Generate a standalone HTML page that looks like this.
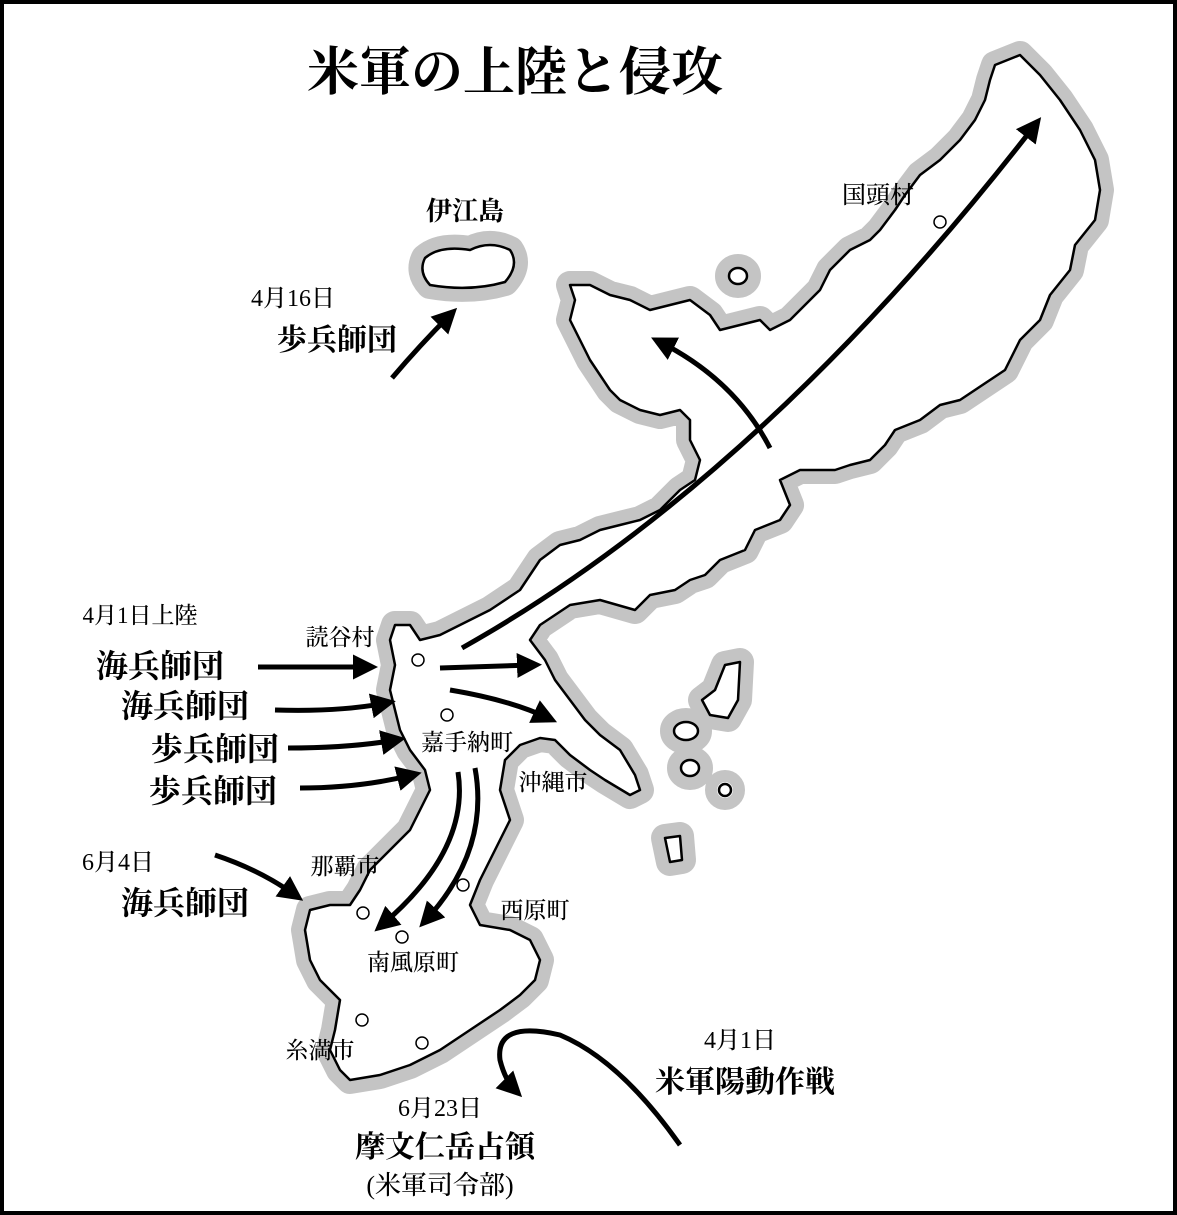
<!DOCTYPE html>
<html><head><meta charset="utf-8"><style>
html,body{margin:0;padding:0;background:#fff}
svg{display:block}
text{font-family:"Liberation Serif","Noto Serif CJK JP","Noto Serif CJK SC",serif;fill:#000;text-anchor:middle;font-weight:500}
.b{font-weight:bold}
</style></head><body>
<svg width="1177" height="1215" viewBox="0 0 1177 1215" xmlns="http://www.w3.org/2000/svg">
<defs>
<marker id="ah" viewBox="0 0 10 10" refX="6" refY="5" markerWidth="5" markerHeight="5" orient="auto" markerUnits="strokeWidth">
<path d="M0,0 L10,5 L0,10 z" fill="#000"/></marker>
<g id="land">
<path d="M995,65 L1020,55 L1040,75 L1060,100 L1080,130 L1095,160 L1100,190 L1095,220 L1075,245 L1070,270 L1050,295 L1040,320 L1020,340 L1005,370 L990,380 L960,400 L940,405 L920,420 L895,430 L885,445 L870,460 L850,465 L835,470 L800,470 L780,480 L790,505 L780,520 L755,530 L745,550 L720,560 L705,575 L690,580 L675,590 L650,595 L635,610 L600,600 L570,605 L540,625 L530,640 L545,660 L555,680 L570,700 L585,720 L600,735 L620,750 L635,775 L640,790 L630,795 L605,780 L590,770 L570,755 L555,740 L540,738 L520,745 L505,760 L500,790 L510,820 L495,850 L480,880 L470,905 L480,925 L510,930 L530,940 L540,960 L535,980 L520,995 L500,1010 L470,1030 L440,1050 L410,1065 L380,1075 L350,1080 L340,1070 L330,1050 L335,1030 L340,1000 L320,980 L310,960 L305,930 L310,910 L330,905 L350,905 L360,890 L370,870 L390,850 L410,830 L420,810 L430,790 L425,770 L410,750 L400,730 L395,710 L390,690 L395,665 L390,640 L395,625 L410,625 L420,640 L440,635 L460,625 L490,610 L520,590 L540,560 L560,545 L580,540 L600,530 L620,525 L640,520 L660,510 L680,490 L695,480 L700,460 L690,440 L690,420 L680,410 L660,415 L640,410 L620,400 L610,390 L600,375 L590,360 L580,340 L570,320 L575,300 L570,285 L590,285 L610,295 L630,300 L650,310 L670,305 L690,300 L710,315 L720,330 L740,325 L760,320 L770,330 L790,320 L810,300 L820,290 L830,270 L850,250 L870,240 L880,230 L895,210 L905,195 L920,175 L940,160 L960,140 L975,120 L985,100 L990,80 Z"/>
<path d="M425,258 Q440,245 470,250 Q490,240 510,250 Q520,265 505,282 Q470,292 430,285 Q418,272 425,258 Z"/>
<ellipse cx="738" cy="276" rx="9" ry="8"/>
<path d="M725,665 L740,662 L738,700 L728,718 L710,715 L702,700 L715,690 Z"/>
<ellipse cx="686" cy="731" rx="12" ry="9"/>
<ellipse cx="690" cy="768" rx="9" ry="8"/>
<ellipse cx="725" cy="790" rx="6" ry="6"/>
<path d="M665,838 L680,836 L682,860 L670,862 Z"/>
</g>
</defs>
<rect x="2" y="2" width="1173" height="1211" fill="#fff" stroke="#000" stroke-width="4"/>
<use href="#land" fill="#c4c4c4" stroke="#c4c4c4" stroke-width="28" stroke-linejoin="round"/>
<use href="#land" fill="#fff" stroke="#000" stroke-width="2.5" stroke-linejoin="round"/>

<g fill="none" stroke="#000" stroke-width="5" marker-end="url(#ah)">
<path d="M392,378 Q420,345 450,315"/>
<path d="M462,648 Q760,480 1035,125"/>
<path d="M770,448 Q735,380 660,342"/>
<path d="M440,668 L532,665"/>
<path d="M450,690 Q510,700 548,718"/>
<path d="M258,667 L368,667"/>
<path d="M275,710 Q340,712 386,703"/>
<path d="M288,748 Q350,748 396,740"/>
<path d="M300,788 Q360,788 412,775"/>
<path d="M458,772 Q470,850 382,925"/>
<path d="M475,768 Q490,850 426,920"/>
<path d="M215,855 Q260,870 295,895"/>
<path d="M680,1145 Q620,1060 560,1035 Q495,1020 500,1060 Q505,1080 515,1090"/>
</g>
<g fill="#fff" stroke="#000" stroke-width="1.5">
<circle cx="940" cy="222" r="6"/><circle cx="418" cy="660" r="6"/><circle cx="447" cy="715" r="6"/>
<circle cx="463" cy="885" r="6"/><circle cx="363" cy="913" r="6"/><circle cx="402" cy="937" r="6"/>
<circle cx="362" cy="1020" r="6"/><circle cx="422" cy="1043" r="6"/>
</g>

<text x="515" y="90" class="b" font-size="52">米軍の上陸と侵攻</text>
<text x="465" y="220" class="b" font-size="26">伊江島</text>
<text x="293" y="306" font-size="24">4月16日</text>
<text x="337" y="350" class="b" font-size="30">歩兵師団</text>
<text x="878" y="203" font-size="24">国頭村</text>
<text x="140" y="623" font-size="23">4月1日上陸</text>
<text x="340" y="645" font-size="23">読谷村</text>
<text x="160" y="677" class="b" font-size="32">海兵師団</text>
<text x="185" y="717" class="b" font-size="32">海兵師団</text>
<text x="215" y="760" class="b" font-size="32">歩兵師団</text>
<text x="213" y="802" class="b" font-size="32">歩兵師団</text>
<text x="467" y="750" font-size="23">嘉手納町</text>
<text x="553" y="790" font-size="23">沖縄市</text>
<text x="118" y="870" font-size="24">6月4日</text>
<text x="185" y="914" class="b" font-size="32">海兵師団</text>
<text x="345" y="874" font-size="23">那覇市</text>
<text x="535" y="918" font-size="23">西原町</text>
<text x="413" y="970" font-size="23">南風原町</text>
<text x="320" y="1058" font-size="23">糸満市</text>
<text x="740" y="1048" font-size="24">4月1日</text>
<text x="745" y="1092" class="b" font-size="30">米軍陽動作戦</text>
<text x="440" y="1116" font-size="24">6月23日</text>
<text x="445" y="1157" class="b" font-size="30">摩文仁岳占領</text>
<text x="440" y="1194" font-size="26">(米軍司令部)</text>
</svg>
</body></html>
